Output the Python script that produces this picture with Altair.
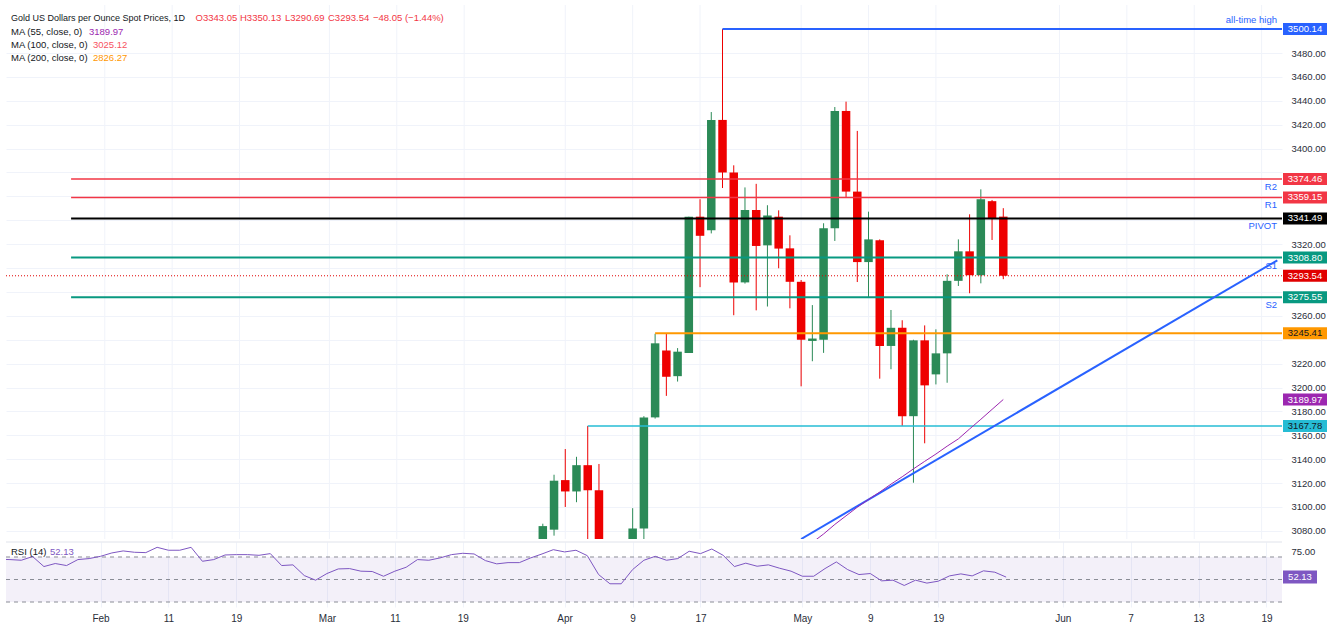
import altair as alt
import pandas as pd

# ---------------- data ----------------
# trading calendar (weekdays, Good Friday closed)
all_days = pd.bdate_range("2025-01-21", "2025-05-27")
trade_days = [d.strftime("%Y-%m-%d") for d in all_days if d.strftime("%Y-%m-%d") != "2025-04-18"]
origin = trade_days.index("2025-02-03")
day_idx = {d: i - origin for i, d in enumerate(trade_days)}

candle_start = trade_days.index("2025-03-28")
candle_dates = trade_days[candle_start:]
opens = [3056, 3081, 3122.5, 3113, 3135, 3114, 3037, 2982, 2982, 3082, 3175, 3231, 3209.5, 3229,
         3343, 3331.6, 3424, 3380, 3288, 3348.6, 3319, 3343, 3316.5, 3288.5, 3239, 3240, 3333.3,
         3431.5, 3364, 3305, 3323.2, 3234.8, 3250, 3176, 3239.5, 3211, 3228.6, 3289.3, 3314, 3294,
         3356, 3343.05]
highs = [3086, 3127, 3148.5, 3142, 3167.8, 3136, 3055, 3022, 3099, 3176, 3245, 3245, 3233, 3343,
         3357.6, 3430.6, 3500.14, 3386, 3367.5, 3370.5, 3352.6, 3348.3, 3327.4, 3290, 3269, 3337.5,
         3434.8, 3439.3, 3414.8, 3347.2, 3324, 3264.9, 3256.3, 3240, 3252, 3248.7, 3294.8, 3324,
         3345, 3365.9, 3357, 3350.13]
lows = [3054, 3076, 3100, 3104, 3054, 3015, 2956, 2970, 2957, 3072, 3174, 3193, 3205, 3229, 3284,
        3329, 3367, 3260.5, 3287, 3264.6, 3267.8, 3299.8, 3266.3, 3201, 3222, 3229, 3322.7, 3359.5,
        3288.3, 3275.8, 3207.4, 3215.3, 3167.8, 3120.3, 3153.3, 3202.6, 3204, 3285, 3278.9, 3287.2,
        3323.5, 3290.69]
closes = [3084, 3122, 3113, 3135, 3114, 3037, 2982, 2983, 3082, 3175, 3237, 3209, 3230, 3343, 3327,
          3424, 3380, 3288, 3348.6, 3318.5, 3344, 3316.3, 3288.5, 3240, 3241, 3333.3, 3431.5, 3364,
          3305, 3324, 3234.8, 3250, 3176, 3239.5, 3201.8, 3228.6, 3289.3, 3314, 3294, 3357.6, 3341.3,
          3293.54]

# RSI(14), one value per trading day from 2025-01-21 to 2025-05-27
rsi_values = [68.0, 67.7, 67.1, 70.4, 61.5, 64.2, 62.4, 67.7, 68.6,
              70.6, 73.6, 75.4, 74.2, 73.9, 78.6, 76.0, 76.0, 78.6, 66.2, 67.7, 71.8, 72.1, 72.1,
              71.5, 73.0, 62.4, 63.0, 53.5, 49.4, 55.3, 59.4, 59.7, 57.4, 57.1, 52.9, 57.4, 60.9,
              67.7, 67.1, 69.2, 72.1, 73.3, 72.7, 66.8, 63.9, 65.0, 65.0, 69.2, 72.7, 76.5, 74.5,
              76.0, 71.2, 54.4, 46.2, 46.2, 58.8, 67.1, 70.6, 67.1, 68.6, 75.1, 73.0, 77.1, 71.5,
              61.5, 64.5, 61.8, 63.0, 60.0, 57.4, 52.9, 52.9, 59.7, 65.6, 58.8, 54.4, 55.3, 48.8,
              49.4, 44.7, 49.4, 46.8, 48.5, 53.2, 55.0, 53.2, 57.7, 56.5, 52.13]

# MA(55) from 2025-05-01
ma_start = trade_days.index("2025-05-01")
ma55_values = [3063.0, 3070.3, 3077.4, 3085.4, 3092.6, 3099.8, 3106.3, 3112.5, 3119.1, 3125.3,
               3131.9, 3138.2, 3144.3, 3150.9, 3157.0, 3165.3, 3173.4, 3181.7, 3189.97]

# trend line anchors (bar index, price)
trend_idx = [62, 104.4]
trend_price = [3073.2, 3306.5]

pivot_names = ["R2", "R1", "PIVOT", "S1", "S2"]
pivot_values = [3374.46, 3359.15, 3341.49, 3308.80, 3275.55]
pivot_start = "2025-01-29"
ath_value, ath_start = 3500.14, "2025-04-22"
orange_value, orange_start = 3245.41, "2025-04-11"
cyan_value, cyan_start = 3167.78, "2025-04-03"
last_price = 3293.54
ma55_last = 3189.97
rsi_last = 52.13

price_ticks = list(range(3080, 3500, 20))
covered_ticks = [3380, 3360, 3340, 3300, 3280, 3240]   # hidden behind the price badges
time_tick_idx = [0, 6, 12, 20, 26, 32, 41, 47, 53, 62, 68, 74, 85, 91, 97, 103]
time_tick_labels = ["Feb", "11", "19", "Mar", "11", "19", "Apr", "9", "17", "May", "9", "19",
                    "Jun", "7", "13", "19"]

title_text = "Gold US Dollars per Ounce Spot Prices, 1D"
ohlc_texts = ["O3343.05", "H3350.13", "L3290.69", "C3293.54", "\u221248.05 (\u22121.44%)"]
ma_labels = ["MA (55, close, 0)", "MA (100, close, 0)", "MA (200, close, 0)"]
ma_values = ["3189.97", "3025.12", "2826.27"]

# ---------------- geometry / style ----------------
W, H, RH = 1276, 534, 65
FONT = "Liberation Sans"
FS = 9.5
GREEN, RED = "#2b8a57", "#ee0000"
TXT = "#131722"
GRID = "#f0f3fa"

xs = alt.Scale(domain=[-8.35, 104.37], nice=False, zero=False)
ys = alt.Scale(domain=[3073.2, 3520.2], nice=False, zero=False)
rs = alt.Scale(domain=[25.56, 83.33], nice=False, zero=False)

price_label_expr = ("indexof([" + ",".join(str(v) for v in covered_ticks)
                    + "], datum.value) >= 0 ? '' : datum.label")
price_axis = alt.Axis(orient="right", values=price_ticks, format=".2f", title=None, tickSize=0,
                      domain=False, labelPadding=9, labelColor="#2a2e39", labelFontSize=FS,
                      labelFont=FONT, grid=True, gridColor=GRID, labelOverlap=False,
                      labelExpr=price_label_expr)
rsi_axis = alt.Axis(orient="right", values=[75], format=".2f", title=None, tickSize=0,
                    domain=False, labelPadding=9, labelColor="#2a2e39", labelFontSize=FS,
                    labelFont=FONT, grid=False)
label_expr = ("[" + ",".join("'%s'" % s for s in time_tick_labels) + "][indexof(["
              + ",".join(str(v) for v in time_tick_idx) + "], datum.value)]")
time_axis = alt.Axis(values=time_tick_idx, labelExpr=label_expr, title=None, tickSize=0,
                     domain=False, labelPadding=6, labelColor="#2a2e39", labelFontSize=10,
                     labelFont=FONT, grid=True, gridColor=GRID, labelOverlap=False,
                     labelFlush=False)


def PX(field="idx"):
    return alt.X(f"{field}:Q", scale=xs, axis=None)


def PY(field):
    return alt.Y(f"{field}:Q", scale=ys, axis=price_axis)


def RX(field="idx"):
    return alt.X(f"{field}:Q", scale=xs, axis=time_axis)


def RY(field):
    return alt.Y(f"{field}:Q", scale=rs, axis=rsi_axis)


# ---------------- tables ----------------
candles = pd.DataFrame({"date": candle_dates, "open": opens, "high": highs, "low": lows,
                        "close": closes})
candles["idx"] = candles["date"].map(day_idx)
rsi_df = pd.DataFrame({"date": trade_days, "rsi": rsi_values})
rsi_df["idx"] = rsi_df["date"].map(day_idx)
ma_df = pd.DataFrame({"date": trade_days[ma_start:], "ma": ma55_values})
ma_df["idx"] = ma_df["date"].map(day_idx)
trend_df = pd.DataFrame({"idx": trend_idx, "price": trend_price})
grid_df = pd.DataFrame({"idx": time_tick_idx})
piv_df = pd.DataFrame({"name": pivot_names, "price": pivot_values,
                       "idx": [day_idx[pivot_start]] * len(pivot_names)})

# ---------------- price pane ----------------
layers = []
layers.append(alt.Chart(grid_df).mark_rule(color=GRID, strokeWidth=1).encode(
    x=PX(), y=alt.value(0), y2=alt.value(H)))


def level(df, color, width, dash=None):
    kw = dict(color=color, strokeWidth=width, clip=True)
    if dash:
        kw["strokeDash"] = dash
    return alt.Chart(df).mark_rule(**kw).encode(x=PX(), x2=alt.value(W), y=PY("price"))


# candles
cond = alt.condition("datum.close >= datum.open", alt.value(GREEN), alt.value(RED))
layers.append(alt.Chart(candles).mark_rule(strokeWidth=1, clip=True).encode(
    x=PX(), y=PY("low"), y2="high:Q", color=cond))
layers.append(alt.Chart(candles).mark_bar(width=8.5, clip=True).encode(
    x=PX(), y=PY("open"), y2="close:Q", color=cond))

layers.append(level(piv_df[piv_df.name.str.startswith("R")], "#f23645", 1.5))
layers.append(level(piv_df[piv_df.name == "PIVOT"], "#000000", 2))
layers.append(level(piv_df[piv_df.name.str.startswith("S")], "#089981", 2))
layers.append(level(pd.DataFrame({"idx": [day_idx[ath_start]], "price": [ath_value]}), "#2962ff", 2))
layers.append(level(pd.DataFrame({"idx": [day_idx[orange_start]], "price": [orange_value]}), "#ff9800", 2))
layers.append(level(pd.DataFrame({"idx": [day_idx[cyan_start]], "price": [cyan_value]}), "#26bcd4", 1.5))
layers.append(alt.Chart(pd.DataFrame({"price": [last_price]})).mark_rule(
    color="#e00000", strokeWidth=1, strokeDash=[1, 2]).encode(
    x=alt.value(0), x2=alt.value(W), y=PY("price")))

layers.append(alt.Chart(trend_df).mark_line(color="#2962ff", strokeWidth=2, clip=True).encode(
    x=PX(), y=PY("price")))
layers.append(alt.Chart(ma_df).mark_line(color="#9c27b0", strokeWidth=1, clip=True).encode(
    x=PX(), y=PY("ma")))

# level names
layers.append(alt.Chart(piv_df).mark_text(align="right", baseline="middle", dy=8, color="#2962ff",
                                          font=FONT, fontSize=FS).encode(
    x=alt.value(W - 5), y=PY("price"), text="name:N"))
layers.append(alt.Chart(pd.DataFrame({"price": [ath_value], "t": ["all-time high"]})).mark_text(
    align="right", baseline="middle", dy=-9, color="#2962ff", font=FONT, fontSize=FS).encode(
    x=alt.value(W - 5), y=PY("price"), text="t:N"))


# header legend
def htext(t, x, y, color, size=FS):
    return alt.Chart(pd.DataFrame({"t": [t]})).mark_text(
        align="left", baseline="middle", color=color, font=FONT, fontSize=size).encode(
        x=alt.value(x), y=alt.value(y), text="t:N")


layers.append(htext(title_text, 5, 13, TXT, 9.0))
for t, x in zip(ohlc_texts, [189.5, 234, 279, 322, 367]):
    layers.append(htext(t, x, 13, "#f23645"))
for lab, val, y, vx, col in zip(ma_labels, ma_values, [27, 40, 53], [83, 87, 87],
                                ["#9c27b0", "#f7525f", "#ff9800"]):
    layers.append(htext(lab, 5, y, TXT))
    layers.append(htext(val, vx, y, col))


# price scale badges
def badge(price, fill, txtcol):
    df = pd.DataFrame({"price": [price], "t": [f"{price:.2f}"]})
    box = alt.Chart(df).mark_rect(color=fill, yOffset=-6, y2Offset=6).encode(
        x=alt.value(W + 1), x2=alt.value(W + 45), y=PY("price"), y2="price:Q")
    txt = alt.Chart(df).mark_text(align="center", baseline="middle", color=txtcol, font=FONT,
                                  fontSize=FS).encode(x=alt.value(W + 23), y=PY("price"),
                                                      text="t:N")
    return [box, txt]


for p, f, c in [(ath_value, "#2962ff", "white"), (pivot_values[0], "#f23645", "white"),
                (pivot_values[1], "#f23645", "white"), (pivot_values[2], "#000000", "white"),
                (pivot_values[3], "#089981", "white"), (last_price, "#e00000", "white"),
                (pivot_values[4], "#089981", "white"), (orange_value, "#ff9800", TXT),
                (ma55_last, "#9c27b0", "white"), (cyan_value, "#26bcd4", TXT)]:
    layers.extend(badge(p, f, c))

price_pane = alt.layer(*layers).properties(width=W, height=H)

# ---------------- RSI pane ----------------
rl = []
rl.append(alt.Chart(pd.DataFrame({"hi": [70], "lo": [30]})).mark_rect(
    color="#7e57c2", opacity=0.09).encode(x=alt.value(0), x2=alt.value(W), y=RY("hi"), y2="lo:Q"))
rl.append(alt.Chart(pd.DataFrame({"v": [70, 50, 30]})).mark_rule(
    color="#8a8d96", strokeWidth=1, strokeDash=[4, 4]).encode(
    x=alt.value(0), x2=alt.value(W), y=RY("v")))
rl.append(alt.Chart(pd.DataFrame({"v": [0]})).mark_rule(color="#e0e3eb", strokeWidth=1).encode(
    x=alt.value(0), x2=alt.value(W), y=alt.value(0)))
rl.append(alt.Chart(rsi_df).mark_line(color="#7e57c2", strokeWidth=1, clip=True).encode(
    x=RX(), y=RY("rsi")))
rl.append(alt.Chart(pd.DataFrame({"t": ["RSI (14)"]})).mark_text(
    align="left", baseline="middle", color=TXT, font=FONT, fontSize=FS).encode(
    x=alt.value(5), y=alt.value(10), text="t:N"))
rl.append(alt.Chart(pd.DataFrame({"t": [f"{rsi_last:.2f}"]})).mark_text(
    align="left", baseline="middle", color="#7e57c2", font=FONT, fontSize=FS).encode(
    x=alt.value(44), y=alt.value(10), text="t:N"))
rdf = pd.DataFrame({"v": [rsi_last], "t": [f"{rsi_last:.2f}"]})
rl.append(alt.Chart(rdf).mark_rect(color="#7e57c2", yOffset=-6.5, y2Offset=6.5).encode(
    x=alt.value(W + 1), x2=alt.value(W + 35), y=RY("v"), y2="v:Q"))
rl.append(alt.Chart(rdf).mark_text(align="center", baseline="middle", color="white", font=FONT,
                                   fontSize=FS).encode(x=alt.value(W + 18), y=RY("v"),
                                                       text="t:N"))
rsi_pane = alt.layer(*rl).properties(width=W, height=RH)

chart = alt.vconcat(price_pane, rsi_pane, spacing=1).properties(
    padding={"left": 5, "top": 4, "right": 5, "bottom": 4},
    background="white",
).configure_view(stroke=None)

chart.save("out.html", embed_options={"renderer": "svg", "actions": False})
